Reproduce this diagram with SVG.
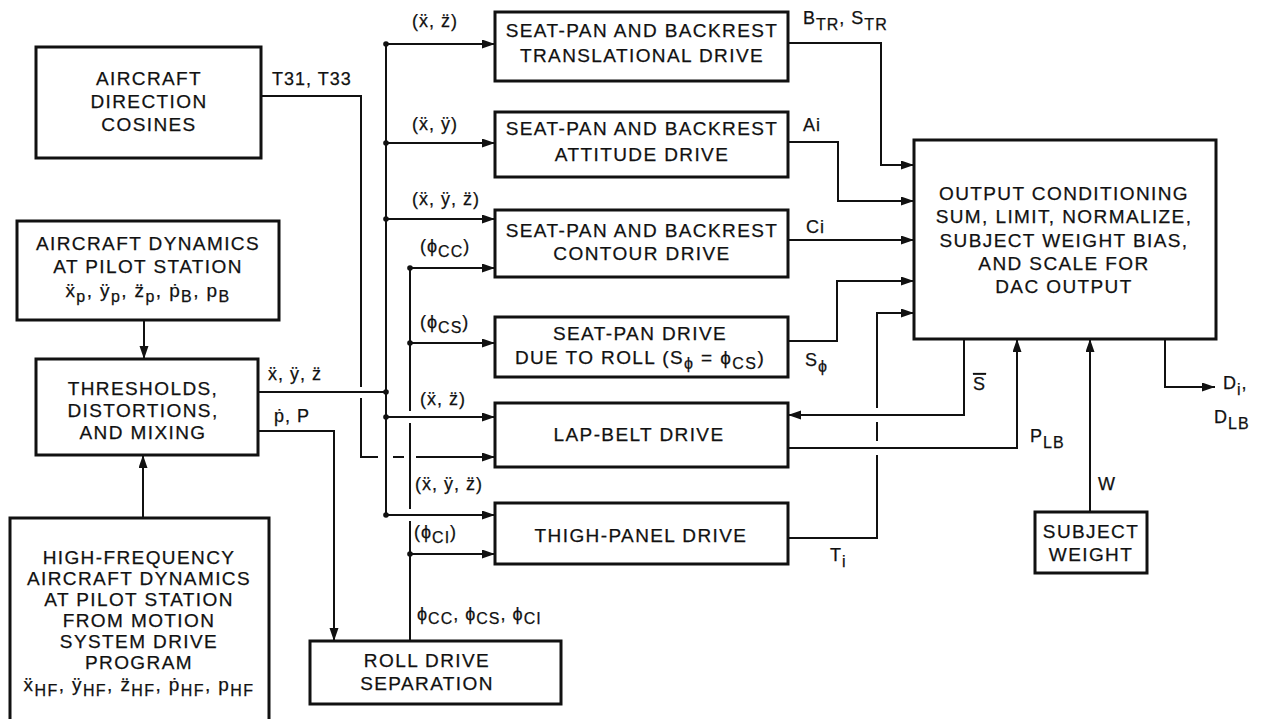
<svg xmlns="http://www.w3.org/2000/svg" width="1268" height="719" viewBox="0 0 1268 719">
<style>
text{font-family:"Liberation Sans",Arial,"DejaVu Sans",sans-serif;fill:#111;stroke:#111;stroke-width:0.25}
.t{font-size:19px;letter-spacing:1.4px;text-anchor:middle}
.l{font-size:18px;letter-spacing:1px}
.s{font-size:16px}
.box{fill:#fff;stroke:#111;stroke-width:3}
.c{fill:none;stroke:#111;stroke-width:2}
.d{fill:#111}
</style>
<defs>
<marker id="a" markerUnits="userSpaceOnUse" markerWidth="14" markerHeight="10" refX="13" refY="4.5" orient="auto">
<path d="M0,0 L13,4.5 L0,9 z" fill="#111"/>
</marker>
</defs>

<g id="connectors">
<path class="c" d="M261,96 H361 V387"/>
<path class="c" d="M361,398 V457 H378"/>
<path class="c" d="M393,457 H404"/>
<path class="c" d="M416,457 H495" marker-end="url(#a)"/>
<path class="c" d="M144,320 V359" marker-end="url(#a)"/>
<path class="c" d="M143,518 V455" marker-end="url(#a)"/>
<path class="c" d="M258,392 H386"/>
<path class="c" d="M386,44 V515"/>
<path class="c" d="M386,44 H495" marker-end="url(#a)"/>
<path class="c" d="M386,143 H495" marker-end="url(#a)"/>
<path class="c" d="M386,219 H495" marker-end="url(#a)"/>
<path class="c" d="M386,417 H495" marker-end="url(#a)"/>
<path class="c" d="M386,515 H495" marker-end="url(#a)"/>
<path class="c" d="M258,431 H334 V641" marker-end="url(#a)"/>
<path class="c" d="M410,641 V521"/>
<path class="c" d="M410,509 V423"/>
<path class="c" d="M410,411 V268"/>
<path class="c" d="M410,268 H495" marker-end="url(#a)"/>
<path class="c" d="M410,343 H495" marker-end="url(#a)"/>
<path class="c" d="M410,554 H495" marker-end="url(#a)"/>
<path class="c" d="M788,43 H881 V165 H914" marker-end="url(#a)"/>
<path class="c" d="M788,142 H838 V201 H914" marker-end="url(#a)"/>
<path class="c" d="M788,240 H914" marker-end="url(#a)"/>
<path class="c" d="M788,341 H837 V281 H914" marker-end="url(#a)"/>
<path class="c" d="M788,538 H877 V455"/>
<path class="c" d="M877,441 V422"/>
<path class="c" d="M877,408 V313 H914" marker-end="url(#a)"/>
<path class="c" d="M964,339 V415 H788" marker-end="url(#a)"/>
<path class="c" d="M788,448 H1017 V339" marker-end="url(#a)"/>
<path class="c" d="M1090,512 V339" marker-end="url(#a)"/>
<path class="c" d="M1165,339 V387 H1215" marker-end="url(#a)"/>
<circle class="d" cx="386" cy="44" r="2.8"/>
<circle class="d" cx="386" cy="143" r="2.8"/>
<circle class="d" cx="386" cy="219" r="2.8"/>
<circle class="d" cx="386" cy="392" r="2.8"/>
<circle class="d" cx="386" cy="417" r="2.8"/>
<circle class="d" cx="386" cy="515" r="2.8"/>
<circle class="d" cx="410" cy="268" r="2.8"/>
<circle class="d" cx="410" cy="343" r="2.8"/>
<circle class="d" cx="410" cy="554" r="2.8"/>
</g>

<g id="labels">
<text class="l" x="272" y="85">T31, T33</text>
<text class="l" x="268" y="380">x&#776;, &#255;, z&#776;</text>
<text class="l" x="274" y="422">&#7767;, P</text>
<text class="l" x="412" y="27">(x&#776;, z&#776;)</text>
<text class="l" x="412" y="130">(x&#776;, &#255;)</text>
<text class="l" x="412" y="205">(x&#776;, &#255;, z&#776;)</text>
<text class="l" x="420" y="252">(&#981;<tspan class="s" dy="5">CC</tspan><tspan dy="-5">)</tspan></text>
<text class="l" x="420" y="328">(&#981;<tspan class="s" dy="5">CS</tspan><tspan dy="-5">)</tspan></text>
<text class="l" x="420" y="405">(x&#776;, z&#776;)</text>
<text class="l" x="415" y="490">(x&#776;, &#255;, z&#776;)</text>
<text class="l" x="414" y="538">(&#981;<tspan class="s" dy="5">CI</tspan><tspan dy="-5">)</tspan></text>
<text class="l" x="417" y="620">&#981;<tspan class="s" dy="4">CC</tspan><tspan dy="-4">, &#981;</tspan><tspan class="s" dy="4">CS</tspan><tspan dy="-4">, &#981;</tspan><tspan class="s" dy="4">CI</tspan></text>
<text class="l" x="803" y="24">B<tspan class="s" dy="6">TR</tspan><tspan dy="-6">, S</tspan><tspan class="s" dy="6">TR</tspan></text>
<text class="l" x="803" y="131">Ai</text>
<text class="l" x="806" y="233">Ci</text>
<text class="l" x="805" y="366">S<tspan class="s" dy="6">&#981;</tspan></text>
<text class="l" x="830" y="561">T<tspan class="s" dy="6">i</tspan></text>
<text class="l" x="973" y="390" style="text-decoration:overline">S</text>
<text class="l" x="1030" y="442">P<tspan class="s" dy="6">LB</tspan></text>
<text class="l" x="1098" y="490">W</text>
<text class="l" x="1223" y="389">D<tspan class="s" dy="6">i</tspan><tspan dy="-6">,</tspan></text>
<text class="l" x="1214" y="423">D<tspan class="s" dy="6">LB</tspan></text>
</g>

<g id="direction-cosines">
<rect class="box" x="36" y="47" width="225" height="111"/>
<text class="t" x="149" y="85">AIRCRAFT</text>
<text class="t" x="149" y="108">DIRECTION</text>
<text class="t" x="149" y="131">COSINES</text>
</g>

<g id="aircraft-dynamics">
<rect class="box" x="17" y="221" width="262" height="99"/>
<text class="t" x="148" y="250">AIRCRAFT DYNAMICS</text>
<text class="t" x="148" y="273">AT PILOT STATION</text>
<text class="t" x="148" y="297">x&#776;<tspan class="s" dy="5">p</tspan><tspan dy="-5">, &#255;</tspan><tspan class="s" dy="5">p</tspan><tspan dy="-5">, z&#776;</tspan><tspan class="s" dy="5">p</tspan><tspan dy="-5">, &#7767;</tspan><tspan class="s" dy="5">B</tspan><tspan dy="-5">, p</tspan><tspan class="s" dy="5">B</tspan></text>
</g>

<g id="thresholds">
<rect class="box" x="36" y="359" width="222" height="96"/>
<text class="t" x="143" y="395">THRESHOLDS,</text>
<text class="t" x="143" y="417">DISTORTIONS,</text>
<text class="t" x="143" y="439">AND MIXING</text>
</g>

<g id="high-frequency">
<rect class="box" x="10" y="518" width="259" height="210"/>
<text class="t" x="139" y="564">HIGH-FREQUENCY</text>
<text class="t" x="139" y="585">AIRCRAFT DYNAMICS</text>
<text class="t" x="139" y="606">AT PILOT STATION</text>
<text class="t" x="139" y="627">FROM MOTION</text>
<text class="t" x="139" y="648">SYSTEM DRIVE</text>
<text class="t" x="139" y="669">PROGRAM</text>
<text class="t" x="139" y="691">x&#776;<tspan class="s" dy="5">HF</tspan><tspan dy="-5">, &#255;</tspan><tspan class="s" dy="5">HF</tspan><tspan dy="-5">, z&#776;</tspan><tspan class="s" dy="5">HF</tspan><tspan dy="-5">, &#7767;</tspan><tspan class="s" dy="5">HF</tspan><tspan dy="-5">, p</tspan><tspan class="s" dy="5">HF</tspan></text>
</g>

<g id="translational-drive">
<rect class="box" x="495" y="12" width="293" height="69"/>
<text class="t" x="642" y="37">SEAT-PAN AND BACKREST</text>
<text class="t" x="642" y="62">TRANSLATIONAL DRIVE</text>
</g>

<g id="attitude-drive">
<rect class="box" x="495" y="112" width="293" height="65"/>
<text class="t" x="642" y="135">SEAT-PAN AND BACKREST</text>
<text class="t" x="642" y="161">ATTITUDE DRIVE</text>
</g>

<g id="contour-drive">
<rect class="box" x="495" y="210" width="293" height="67"/>
<text class="t" x="642" y="237">SEAT-PAN AND BACKREST</text>
<text class="t" x="642" y="260">CONTOUR DRIVE</text>
</g>

<g id="roll-seat-pan-drive">
<rect class="box" x="495" y="317" width="293" height="60"/>
<text class="t" x="640" y="340">SEAT-PAN DRIVE</text>
<text class="t" x="640" y="364">DUE TO ROLL (S<tspan class="s" dy="5">&#981;</tspan><tspan dy="-5"> = &#981;</tspan><tspan class="s" dy="5">CS</tspan><tspan dy="-5">)</tspan></text>
</g>

<g id="lap-belt-drive">
<rect class="box" x="495" y="403" width="293" height="64"/>
<text class="t" x="639" y="441">LAP-BELT DRIVE</text>
</g>

<g id="thigh-panel-drive">
<rect class="box" x="495" y="503" width="293" height="61"/>
<text class="t" x="641" y="542">THIGH-PANEL DRIVE</text>
</g>

<g id="roll-drive-separation">
<rect class="box" x="310" y="641" width="251" height="63"/>
<text class="t" x="427" y="667">ROLL DRIVE</text>
<text class="t" x="427" y="690">SEPARATION</text>
</g>

<g id="output-conditioning">
<rect class="box" x="914" y="140" width="302" height="199"/>
<text class="t" x="1064" y="200">OUTPUT CONDITIONING</text>
<text class="t" x="1064" y="223">SUM, LIMIT, NORMALIZE,</text>
<text class="t" x="1064" y="247">SUBJECT WEIGHT BIAS,</text>
<text class="t" x="1064" y="270">AND SCALE FOR</text>
<text class="t" x="1064" y="293">DAC OUTPUT</text>
</g>

<g id="subject-weight">
<rect class="box" x="1035" y="512" width="112" height="61"/>
<text class="t" x="1091" y="538">SUBJECT</text>
<text class="t" x="1091" y="561">WEIGHT</text>
</g>
</svg>
